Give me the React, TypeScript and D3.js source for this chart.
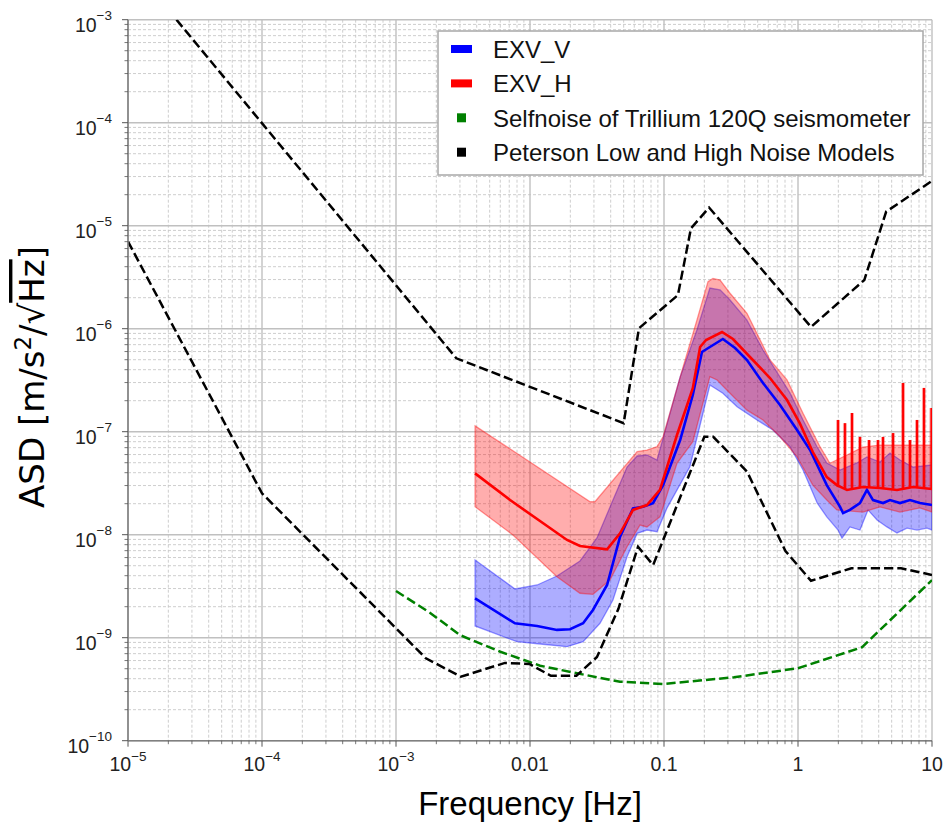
import React from "react";
import * as d3 from "d3";

type P = [number, number];

// ---------- DATA ----------
const xTickValues = [1e-5, 1e-4, 1e-3, 0.01, 0.1, 1, 10];
const xTickLabels = ["10^-5", "10^-4", "10^-3", "0.01", "0.1", "1", "10"];
const yTickValues = [1e-10, 1e-9, 1e-8, 1e-7, 1e-6, 1e-5, 1e-4, 1e-3];
const yTickLabels = ["10^-10", "10^-9", "10^-8", "10^-7", "10^-6", "10^-5", "10^-4", "10^-3"];

const legendLabels = [
  "EXV_V",
  "EXV_H",
  "Selfnoise of Trillium 120Q seismometer",
  "Peterson Low and High Noise Models",
];

// Peterson New High Noise Model [Hz, m/s^2/sqrt(Hz)]
const nhnm: P[] = [
  [2.3e-5, 1.0e-3],
  [2.82e-3, 5.16e-7],
  [0.05, 1.21e-7],
  [0.065, 1.01e-6],
  [0.127, 2.12e-6],
  [0.159, 9.44e-6],
  [0.217, 1.5e-5],
  [1.25, 1.04e-6],
  [3.125, 2.97e-6],
  [4.55, 1.37e-5],
  [10, 2.72e-5],
];

// Peterson New Low Noise Model
const nlnm: P[] = [
  [1e-5, 7.03e-6],
  [1e-4, 2.52e-8],
  [1.67e-3, 6.31e-10],
  [3.05e-3, 4.18e-10],
  [6.5e-3, 5.69e-10],
  [9.9e-3, 5.56e-10],
  [1.43e-2, 4.27e-10],
  [2.22e-2, 4.27e-10],
  [3.16e-2, 6.5e-10],
  [4.57e-2, 1.91e-9],
  [0.064, 7.64e-9],
  [0.083, 5.07e-9],
  [0.2, 8.93e-8],
  [0.233, 8.93e-8],
  [0.417, 4.09e-8],
  [0.806, 6.95e-9],
  [1.25, 3.57e-9],
  [2.5, 4.72e-9],
  [5.88, 4.72e-9],
  [10, 4.07e-9],
];

// Trillium 120Q self-noise
const selfNoise: P[] = [
  [1e-3, 2.84e-9],
  [1.8e-3, 1.74e-9],
  [3.0e-3, 1.06e-9],
  [6.0e-3, 7.31e-10],
  [1.19e-2, 5.35e-10],
  [2.24e-2, 4.51e-10],
  [4.7e-2, 3.74e-10],
  [0.098, 3.55e-10],
  [0.333, 4.13e-10],
  [1.0, 5.05e-10],
  [3.0, 8.07e-10],
  [10, 3.63e-9],
];

// EXV_V (vertical)
const vUpper: P[] = [
  [3.89e-3, 5.68e-9], [7.73e-3, 2.97e-9], [1.13e-2, 3.25e-9], [1.59e-2, 3.97e-9],
  [2.36e-2, 5.56e-9], [3.16e-2, 9.29e-9], [4.16e-2, 2.17e-8], [5.3e-2, 4.54e-8],
  [6.3e-2, 5.81e-8], [7.46e-2, 5.94e-8], [8.87e-2, 5.31e-8], [0.132, 3.4e-7],
  [0.176, 9.7e-7], [0.22, 2.48e-6], [0.262, 2.38e-6], [0.311, 1.9e-6],
  [0.416, 1.21e-6], [0.548, 6.21e-7], [0.871, 2.38e-7], [1.09, 1.3e-7],
  [1.39, 7.1e-8], [1.64, 4.97e-8], [2.06, 4.25e-8], [2.75, 4.97e-8],
  [3.27, 5.68e-8], [4.09, 5.08e-8], [4.86, 6.21e-8], [5.77, 5.31e-8],
  [7.21, 4.54e-8], [10, 4.75e-8],
];
const vMedian: P[] = [
  [3.89e-3, 2.41e-9], [7.73e-3, 1.38e-9], [1.13e-2, 1.3e-9], [1.59e-2, 1.19e-9],
  [1.99e-2, 1.21e-9], [2.49e-2, 1.38e-9], [2.95e-2, 1.86e-9], [3.76e-2, 3.25e-9],
  [4.7e-2, 9.57e-9], [5.87e-2, 1.8e-8], [6.97e-2, 1.87e-8], [8.28e-2, 2.02e-8],
  [9.84e-2, 3.03e-8], [0.132, 8.3e-8], [0.164, 2.27e-7], [0.192, 5.94e-7],
  [0.22, 6.64e-7], [0.275, 7.94e-7], [0.339, 6.5e-7], [0.416, 4.97e-7],
  [0.548, 2.97e-7], [0.734, 1.82e-7], [0.984, 1.04e-7], [1.23, 6.64e-8],
  [1.64, 3.03e-8], [2.06, 1.86e-8], [2.17, 1.62e-8], [2.44, 1.74e-8],
  [2.9, 2.03e-8], [3.27, 2.72e-8], [3.63, 2.17e-8], [4.31, 2.03e-8],
  [4.86, 2.17e-8], [5.77, 2.03e-8], [6.85, 2.17e-8], [8.13, 2.03e-8], [10, 1.94e-8],
];
const vLower: P[] = [
  [3.89e-3, 1.3e-9], [8.0e-3, 9.14e-10], [1.19e-2, 8.69e-10], [1.89e-2, 8.18e-10],
  [2.49e-2, 9.14e-10], [3.33e-2, 1.38e-9], [4.16e-2, 2.32e-9], [5.3e-2, 6.11e-9],
  [6.3e-2, 1.03e-8], [7.46e-2, 1.11e-8], [8.87e-2, 1.07e-8], [0.105, 1.8e-8],
  [0.156, 4.57e-8], [0.22, 2.84e-7], [0.275, 2.36e-7], [0.351, 1.75e-7],
  [0.494, 1.3e-7], [0.65, 1.04e-7], [0.871, 7.15e-8], [1.09, 4.25e-8],
  [1.39, 2.03e-8], [1.64, 1.49e-8], [1.99, 1.11e-8], [2.13, 9.26e-9],
  [2.44, 1.19e-8], [2.9, 1.11e-8], [3.33, 1.74e-8], [3.89, 1.39e-8],
  [4.61, 1.19e-8], [5.48, 1.04e-8], [6.51, 1.16e-8], [7.73, 1.11e-8],
  [9.18, 1.16e-8], [10, 1.11e-8],
];

// EXV_H (horizontal)
const hUpper: P[] = [
  [3.89e-3, 1.14e-7], [2.81e-2, 2.09e-8], [3.05e-2, 2.09e-8], [6.3e-2, 6.4e-8],
  [7.46e-2, 6.64e-8], [8.87e-2, 7.15e-8], [9.84e-2, 8.94e-8], [0.139, 4.28e-7],
  [0.176, 1.21e-6], [0.213, 2.86e-6], [0.232, 3.08e-6], [0.262, 2.97e-6],
  [0.311, 2.21e-6], [0.416, 1.41e-6], [0.618, 4.97e-7], [0.828, 3.18e-7],
  [1.09, 1.51e-7], [1.46, 7.15e-8], [1.73, 4.94e-8], [2.32, 5.94e-8],
  [3.05, 7.09e-8], [4.09, 7.42e-8], [6.51, 7.42e-8], [10, 7.42e-8],
];
const hMedian: P[] = [
  [3.89e-3, 3.94e-8], [7.1e-3, 2.17e-8], [1.89e-2, 8.89e-9], [2.36e-2, 7.76e-9],
  [3.76e-2, 7.21e-9], [4.7e-2, 1.03e-8], [5.87e-2, 1.74e-8], [7.46e-2, 1.94e-8],
  [9.33e-2, 2.72e-8], [0.125, 9.29e-8], [0.164, 2.65e-7], [0.186, 6.64e-7],
  [0.206, 7.77e-7], [0.271, 9.29e-7], [0.327, 7.94e-7], [0.438, 5.31e-7],
  [0.618, 3.32e-7], [0.828, 2.03e-7], [1.03, 1.21e-7], [1.29, 6.35e-8],
  [1.64, 3.63e-8], [1.95, 3.03e-8], [2.32, 2.72e-8], [3.05, 2.9e-8],
  [4.09, 2.84e-8], [5.48, 2.72e-8], [7.21, 2.9e-8], [10, 2.78e-8],
];
const hLower: P[] = [
  [3.89e-3, 1.87e-8], [7.46e-3, 9.93e-9], [1.59e-2, 3.91e-9], [2.36e-2, 2.7e-9],
  [2.95e-2, 2.64e-9], [3.95e-2, 3.63e-9], [5.3e-2, 7.64e-9], [6.62e-2, 1.24e-8],
  [7.46e-2, 1.19e-8], [9.33e-2, 1.49e-8], [0.125, 4.93e-8], [0.164, 8.0e-8],
  [0.22, 3.42e-7], [0.249, 3.18e-7], [0.311, 2.36e-7], [0.416, 1.62e-7],
  [0.548, 1.3e-7], [0.734, 8.94e-8], [0.984, 5.71e-8], [1.29, 3.03e-8],
  [1.64, 2.17e-8], [1.95, 1.74e-8], [3.05, 1.66e-8], [4.09, 1.86e-8],
  [5.77, 1.66e-8], [8.13, 1.82e-8], [10, 1.66e-8],
];
// narrow spectral lines in EXV_H: [Hz, base, peak]
const hSpikes: [number, number, number][] = [
  [1.99, 2.9e-8, 1.3e-7], [2.24, 2.8e-8, 1.21e-7], [2.53, 2.8e-8, 1.52e-7],
  [2.9, 2.9e-8, 8.9e-8], [3.39, 2.9e-8, 8.3e-8], [3.95, 2.8e-8, 8.3e-8],
  [4.31, 2.8e-8, 8.9e-8], [5.12, 2.8e-8, 9.7e-8], [6.08, 2.8e-8, 2.97e-7],
  [6.85, 2.9e-8, 8.3e-8], [7.73, 2.9e-8, 1.3e-7], [8.71, 2.8e-8, 2.66e-7],
  [9.9, 2.8e-8, 1.7e-7],
];

// ---------- LAYOUT ----------
const W = 945;
const H = 826;
const L = 128, R = 932, T = 19.7, B = 740.7;
const FONT = "'Liberation Sans', Arial, Helvetica, sans-serif";

const x = d3.scaleLog().domain([1e-5, 10]).range([L, R]);
const y = d3.scaleLog().domain([1e-10, 1e-3]).range([B, T]);
const line = d3.line<P>().x((d) => x(d[0])).y((d) => y(d[1]));
const band = (up: P[], lo: P[]) => line([...up, ...lo.slice().reverse()]) + "Z";

const minorX: number[] = [];
for (let e = -5; e < 1; e++) for (let k = 2; k <= 9; k++) minorX.push(k * Math.pow(10, e));
const minorY: number[] = [];
for (let e = -10; e < -3; e++) for (let k = 2; k <= 9; k++) minorY.push(k * Math.pow(10, e));

function Label({ s, sup, dy }: { s: string; sup: number; dy: number }) {
  const m = s.match(/^10\^(.*)$/);
  if (m)
    return (
      <>
        10
        <tspan dy={dy} fontSize={sup}>
          {m[1].replace("-", "\u2212")}
        </tspan>
      </>
    );
  return <>{s}</>;
}

export default function App() {
  const legendColors = ["#0000ff", "#ff0000", "#008000", "#000000"];
  return (
    <div style={{ position: "absolute", left: 0, top: 0 }}>
      <svg width={W} height={H} style={{ display: "block", background: "#fff" }}>
        <defs>
          <clipPath id="plot">
            <rect x={L} y={T} width={R - L} height={B - T} />
          </clipPath>
        </defs>
        {/* grid */}
        <g>
          {minorX.map((v, i) => (
            <line key={"mx" + i} x1={x(v)} x2={x(v)} y1={T} y2={B} stroke="#c8c8c8" strokeWidth={0.9} strokeDasharray="3,2" />
          ))}
          {minorY.map((v, i) => (
            <line key={"my" + i} x1={L} x2={R} y1={y(v)} y2={y(v)} stroke="#c8c8c8" strokeWidth={0.9} strokeDasharray="3,2" />
          ))}
          {xTickValues.map((v, i) => (
            <line key={"gx" + i} x1={x(v)} x2={x(v)} y1={T} y2={B} stroke="#c0c0c0" strokeWidth={1.4} />
          ))}
          {yTickValues.map((v, i) => (
            <line key={"gy" + i} x1={L} x2={R} y1={y(v)} y2={y(v)} stroke="#c0c0c0" strokeWidth={1.4} />
          ))}
        </g>

        {/* data */}
        <g clipPath="url(#plot)">
          <path d={band(vUpper, vLower)} fill="rgba(0,0,255,0.32)" stroke="rgba(0,0,255,0.4)" strokeWidth={1.3} />
          <path d={band(hUpper, hLower)} fill="rgba(255,0,0,0.32)" stroke="rgba(255,0,0,0.4)" strokeWidth={1.3} />
          {hSpikes.map((s, i) => (
            <line key={"sp" + i} x1={x(s[0])} x2={x(s[0])} y1={y(s[1])} y2={y(s[2])} stroke="rgba(255,0,0,0.35)" strokeWidth={4} />
          ))}
          <path d={line(vMedian) || ""} fill="none" stroke="#0000ff" strokeWidth={2.6} />
          <path d={line(hMedian) || ""} fill="none" stroke="#ff0000" strokeWidth={2.6} />
          {hSpikes.map((s, i) => (
            <line key={"sl" + i} x1={x(s[0])} x2={x(s[0])} y1={y(s[1])} y2={y(s[2])} stroke="#ff0000" strokeWidth={2} />
          ))}
          <path d={line(selfNoise) || ""} fill="none" stroke="#008000" strokeWidth={2.5} strokeDasharray="9.25,4" />
          <path d={line(nhnm) || ""} fill="none" stroke="#000" strokeWidth={2.5} strokeDasharray="9.25,4" />
          <path d={line(nlnm) || ""} fill="none" stroke="#000" strokeWidth={2.5} strokeDasharray="9.25,4" />
        </g>

        {/* spines */}
        <line x1={L} x2={L} y1={T} y2={B} stroke="#808080" strokeWidth={1.6} />
        <line x1={L} x2={R} y1={B} y2={B} stroke="#808080" strokeWidth={1.6} />

        {/* ticks */}
        {xTickValues.map((v, i) => (
          <line key={"tx" + i} x1={x(v)} x2={x(v)} y1={B} y2={B + 6} stroke="#555" strokeWidth={1} />
        ))}
        {minorX.map((v, i) => (
          <line key={"tmx" + i} x1={x(v)} x2={x(v)} y1={B} y2={B + 3.5} stroke="#555" strokeWidth={0.8} />
        ))}
        {yTickValues.map((v, i) => (
          <line key={"ty" + i} x1={L - 6} x2={L} y1={y(v)} y2={y(v)} stroke="#555" strokeWidth={1} />
        ))}
        {minorY.map((v, i) => (
          <line key={"tmy" + i} x1={L - 3.5} x2={L} y1={y(v)} y2={y(v)} stroke="#555" strokeWidth={0.8} />
        ))}

        {/* tick labels */}
        {xTickValues.map((v, i) => (
          <text key={"lx" + i} x={x(v)} y={B + 30} textAnchor="middle" fontFamily={FONT} fontSize={19.5} fill="#222">
            <Label s={xTickLabels[i]} sup={13.5} dy={-10} />
          </text>
        ))}
        {yTickValues.map((v, i) => (
          <text key={"ly" + i} x={112} y={y(v) + 12} textAnchor="end" fontFamily={FONT} fontSize={19.5} fill="#222">
            <Label s={yTickLabels[i]} sup={13.5} dy={-12} />
          </text>
        ))}

        {/* axis titles */}
        <text x={(L + R) / 2} y={815} textAnchor="middle" fontFamily={FONT} fontSize={33} fill="#000">
          Frequency [Hz]
        </text>
        <text transform={`translate(44,377) rotate(-90)`} textAnchor="middle" fontFamily="'DejaVu Sans', sans-serif" fontSize={34} fill="#000">
          ASD [m/s
          <tspan dy={-13} fontSize={23}>2</tspan>
          <tspan dy={13}>/√</tspan>
          <tspan textDecoration="overline" style={{ textDecoration: "overline" }}>Hz</tspan>]
        </text>

        {/* legend */}
        <rect x={438} y={31} width={485} height={144} fill="#fff" stroke="#a8a8a8" strokeWidth={1.5} />
        {legendLabels.map((lab, i) => {
          const base = 58 + i * 34.4;
          return (
            <g key={"lg" + i}>
              {i < 2 ? (
                <rect x={451} y={base - 13} width={21} height={8} fill={legendColors[i]} />
              ) : (
                <rect x={457} y={base - 13.5} width={9} height={9} fill={legendColors[i]} />
              )}
              <text x={493} y={base} fontFamily={FONT} fontSize={24} fill="#111">
                {lab}
              </text>
            </g>
          );
        })}
      </svg>
    </div>
  );
}
